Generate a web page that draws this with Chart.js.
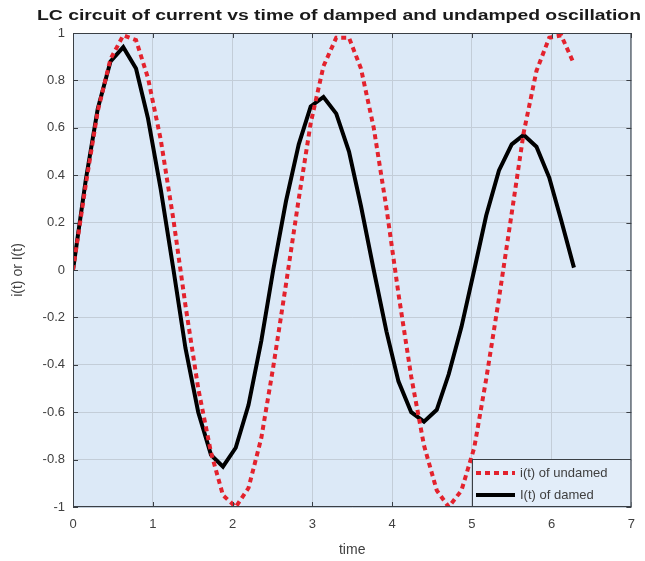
<!DOCTYPE html>
<html>
<head>
<meta charset="utf-8">
<script src="https://cdn.jsdelivr.net/npm/chart.js@4.4.0/dist/chart.umd.min.js"></script>
<style>
  html, body { margin: 0; padding: 0; background: #fff; }
</style>
</head>
<body>
<canvas id="canvas" width="645" height="561"></canvas>
<script>
// time samples (0 .. 2*pi)
var time = [0, 0.16, 0.31, 0.47, 0.63, 0.79, 0.94, 1.1, 1.26, 1.41, 1.57, 1.73, 1.88, 2.04, 2.2, 2.36, 2.51, 2.67, 2.83, 2.98,
            3.14, 3.3, 3.46, 3.61, 3.77, 3.93, 4.08, 4.24, 4.4, 4.56, 4.71, 4.87, 5.03, 5.18, 5.34, 5.5, 5.65, 5.81, 5.97, 6.12, 6.28];
// i(t) undamped
var undamped = [0, 0.36, 0.67, 0.89, 0.99, 0.97, 0.81, 0.55, 0.21, -0.15, -0.5, -0.77, -0.95, -1, -0.92, -0.71, -0.41, -0.06, 0.3, 0.62,
                0.86, 0.98, 0.98, 0.85, 0.6, 0.26, -0.1, -0.45, -0.74, -0.93, -1, -0.93, -0.75, -0.46, -0.12, 0.24, 0.58, 0.84, 0.98, 0.99, 0.87];
// I(t) damped
var damped = [0, 0.38, 0.68, 0.88, 0.94, 0.85, 0.64, 0.34, 0, -0.33, -0.6, -0.78, -0.83, -0.75, -0.57, -0.3, 0, 0.29, 0.53, 0.69,
              0.73, 0.66, 0.5, 0.27, 0, -0.26, -0.47, -0.6, -0.64, -0.59, -0.44, -0.24, 0, 0.23, 0.42, 0.53, 0.57, 0.52, 0.39, 0.21, 0.01];

var xTicks = [0, 1, 2, 3, 4, 5, 6, 7];
var yTicks = [-1, -0.8, -0.6, -0.4, -0.2, 0, 0.2, 0.4, 0.6, 0.8, 1];
var seriesNames = ["i(t) of undamed", "I(t) of damed"];
var chartTitle = "LC circuit of current vs time of damped and undamped oscillation";
var xTitle = "time";
var yTitle = "i(t) or I(t)";

var FONT = '"Liberation Sans", Arial, sans-serif';
var AXIS_COLOR = '#3a3f45';
var LABEL_COLOR = '#404040';

function pairs(xs, ys) {
    return xs.map(function (x, i) { return { x: x, y: ys[i] }; });
}

var matlabFrame = {
    id: 'matlabFrame',
    beforeDraw: function (chart) {
        var ctx = chart.ctx, a = chart.chartArea;
        ctx.save();
        ctx.fillStyle = '#ffffff';
        ctx.fillRect(0, 0, chart.width, chart.height);
        ctx.fillStyle = '#dce9f7';
        ctx.fillRect(a.left, a.top, a.right - a.left, a.bottom - a.top);
        ctx.restore();
    },
    afterDraw: function (chart) {
        var ctx = chart.ctx, a = chart.chartArea;
        var xs = chart.scales.x, ys = chart.scales.y;
        ctx.save();
        // box and inward ticks
        ctx.strokeStyle = AXIS_COLOR;
        ctx.lineWidth = 1;
        ctx.strokeRect(a.left + 0.5, a.top + 0.5, a.right - a.left - 1, a.bottom - a.top - 1);
        ctx.beginPath();
        xTicks.forEach(function (t) {
            var px = Math.round(xs.getPixelForValue(t)) + 0.5;
            ctx.moveTo(px, a.bottom); ctx.lineTo(px, a.bottom - 5);
            ctx.moveTo(px, a.top); ctx.lineTo(px, a.top + 5);
        });
        yTicks.forEach(function (t) {
            var py = Math.round(ys.getPixelForValue(t)) + 0.5;
            ctx.moveTo(a.left, py); ctx.lineTo(a.left + 5, py);
            ctx.moveTo(a.right, py); ctx.lineTo(a.right - 5, py);
        });
        ctx.stroke();

        // title
        ctx.fillStyle = '#1a1a1a';
        ctx.font = 'bold 14px ' + FONT;
        ctx.textAlign = 'left';
        ctx.textBaseline = 'alphabetic';
        var w = ctx.measureText(chartTitle).width;
        ctx.save();
        ctx.translate(37, 20);
        ctx.scale(604 / w, 1);
        ctx.fillText(chartTitle, 0, 0);
        ctx.restore();

        // axis titles
        ctx.fillStyle = LABEL_COLOR;
        ctx.font = '14px ' + FONT;
        ctx.textAlign = 'center';
        ctx.textBaseline = 'middle';
        ctx.fillText(xTitle, (a.left + a.right) / 2, 550);
        ctx.save();
        ctx.translate(18, (a.top + a.bottom) / 2);
        ctx.rotate(-Math.PI / 2);
        ctx.fillText(yTitle, 0, 0);
        ctx.restore();

        // legend box, lower right inside the axes
        var lx = 472, ly = 459, lw = a.right - 472, lh = a.bottom - 459;
        ctx.fillStyle = '#e2edf9';
        ctx.fillRect(lx, ly, lw, lh);
        ctx.strokeStyle = AXIS_COLOR;
        ctx.strokeRect(lx + 0.5, ly + 0.5, lw - 1, lh - 1);
        chart.data.datasets.forEach(function (ds, i) {
            var yy = ly + 14 + i * 22;
            ctx.save();
            ctx.strokeStyle = ds.borderColor;
            ctx.lineWidth = ds.borderWidth;
            ctx.setLineDash(ds.borderDash || []);
            ctx.beginPath();
            ctx.moveTo(476, yy);
            ctx.lineTo(515, yy);
            ctx.stroke();
            ctx.restore();
            ctx.fillStyle = LABEL_COLOR;
            ctx.font = '13px ' + FONT;
            ctx.textAlign = 'left';
            ctx.textBaseline = 'middle';
            ctx.fillText(seriesNames[i], 520, yy);
        });
        ctx.restore();
    }
};

function fmt(v) { return String(Math.round(v * 10) / 10); }

const ctx = document.getElementById('canvas').getContext('2d');
const myChart = new Chart(ctx, {
    type: 'line',
    data: {
        datasets: [{
            label: seriesNames[0],
            data: pairs(time, undamped),
            borderColor: '#e3222d',
            borderWidth: 4,
            borderDash: [5, 4],
            pointRadius: 0,
            tension: 0,
            fill: false
        }, {
            label: seriesNames[1],
            data: pairs(time, damped),
            borderColor: '#000000',
            borderWidth: 4,
            pointRadius: 0,
            tension: 0,
            fill: false
        }]
    },
    options: {
        responsive: false,
        animation: false,
        devicePixelRatio: 1,
        layout: { padding: { top: 33, right: 13, left: 0, bottom: 0 } },
        plugins: {
            legend: { display: false },
            title: { display: false },
            tooltip: { enabled: false }
        },
        scales: {
            x: {
                type: 'linear',
                min: 0,
                max: 7,
                afterBuildTicks: function (s) { s.ticks = xTicks.map(function (v) { return { value: v }; }); },
                afterFit: function (s) { s.height = 54; },
                grid: { color: '#c3cdd8', drawTicks: false },
                border: { display: false },
                ticks: { color: LABEL_COLOR, padding: 10, maxRotation: 0, font: { family: FONT, size: 13 }, callback: fmt }
            },
            y: {
                type: 'linear',
                min: -1,
                max: 1,
                afterBuildTicks: function (s) { s.ticks = yTicks.map(function (v) { return { value: v }; }); },
                afterFit: function (s) { s.width = 73; },
                grid: { color: '#c3cdd8', drawTicks: false },
                border: { display: false },
                ticks: { color: LABEL_COLOR, padding: 8, font: { family: FONT, size: 13 }, callback: fmt }
            }
        }
    },
    plugins: [matlabFrame]
});
</script>
</body>
</html>
